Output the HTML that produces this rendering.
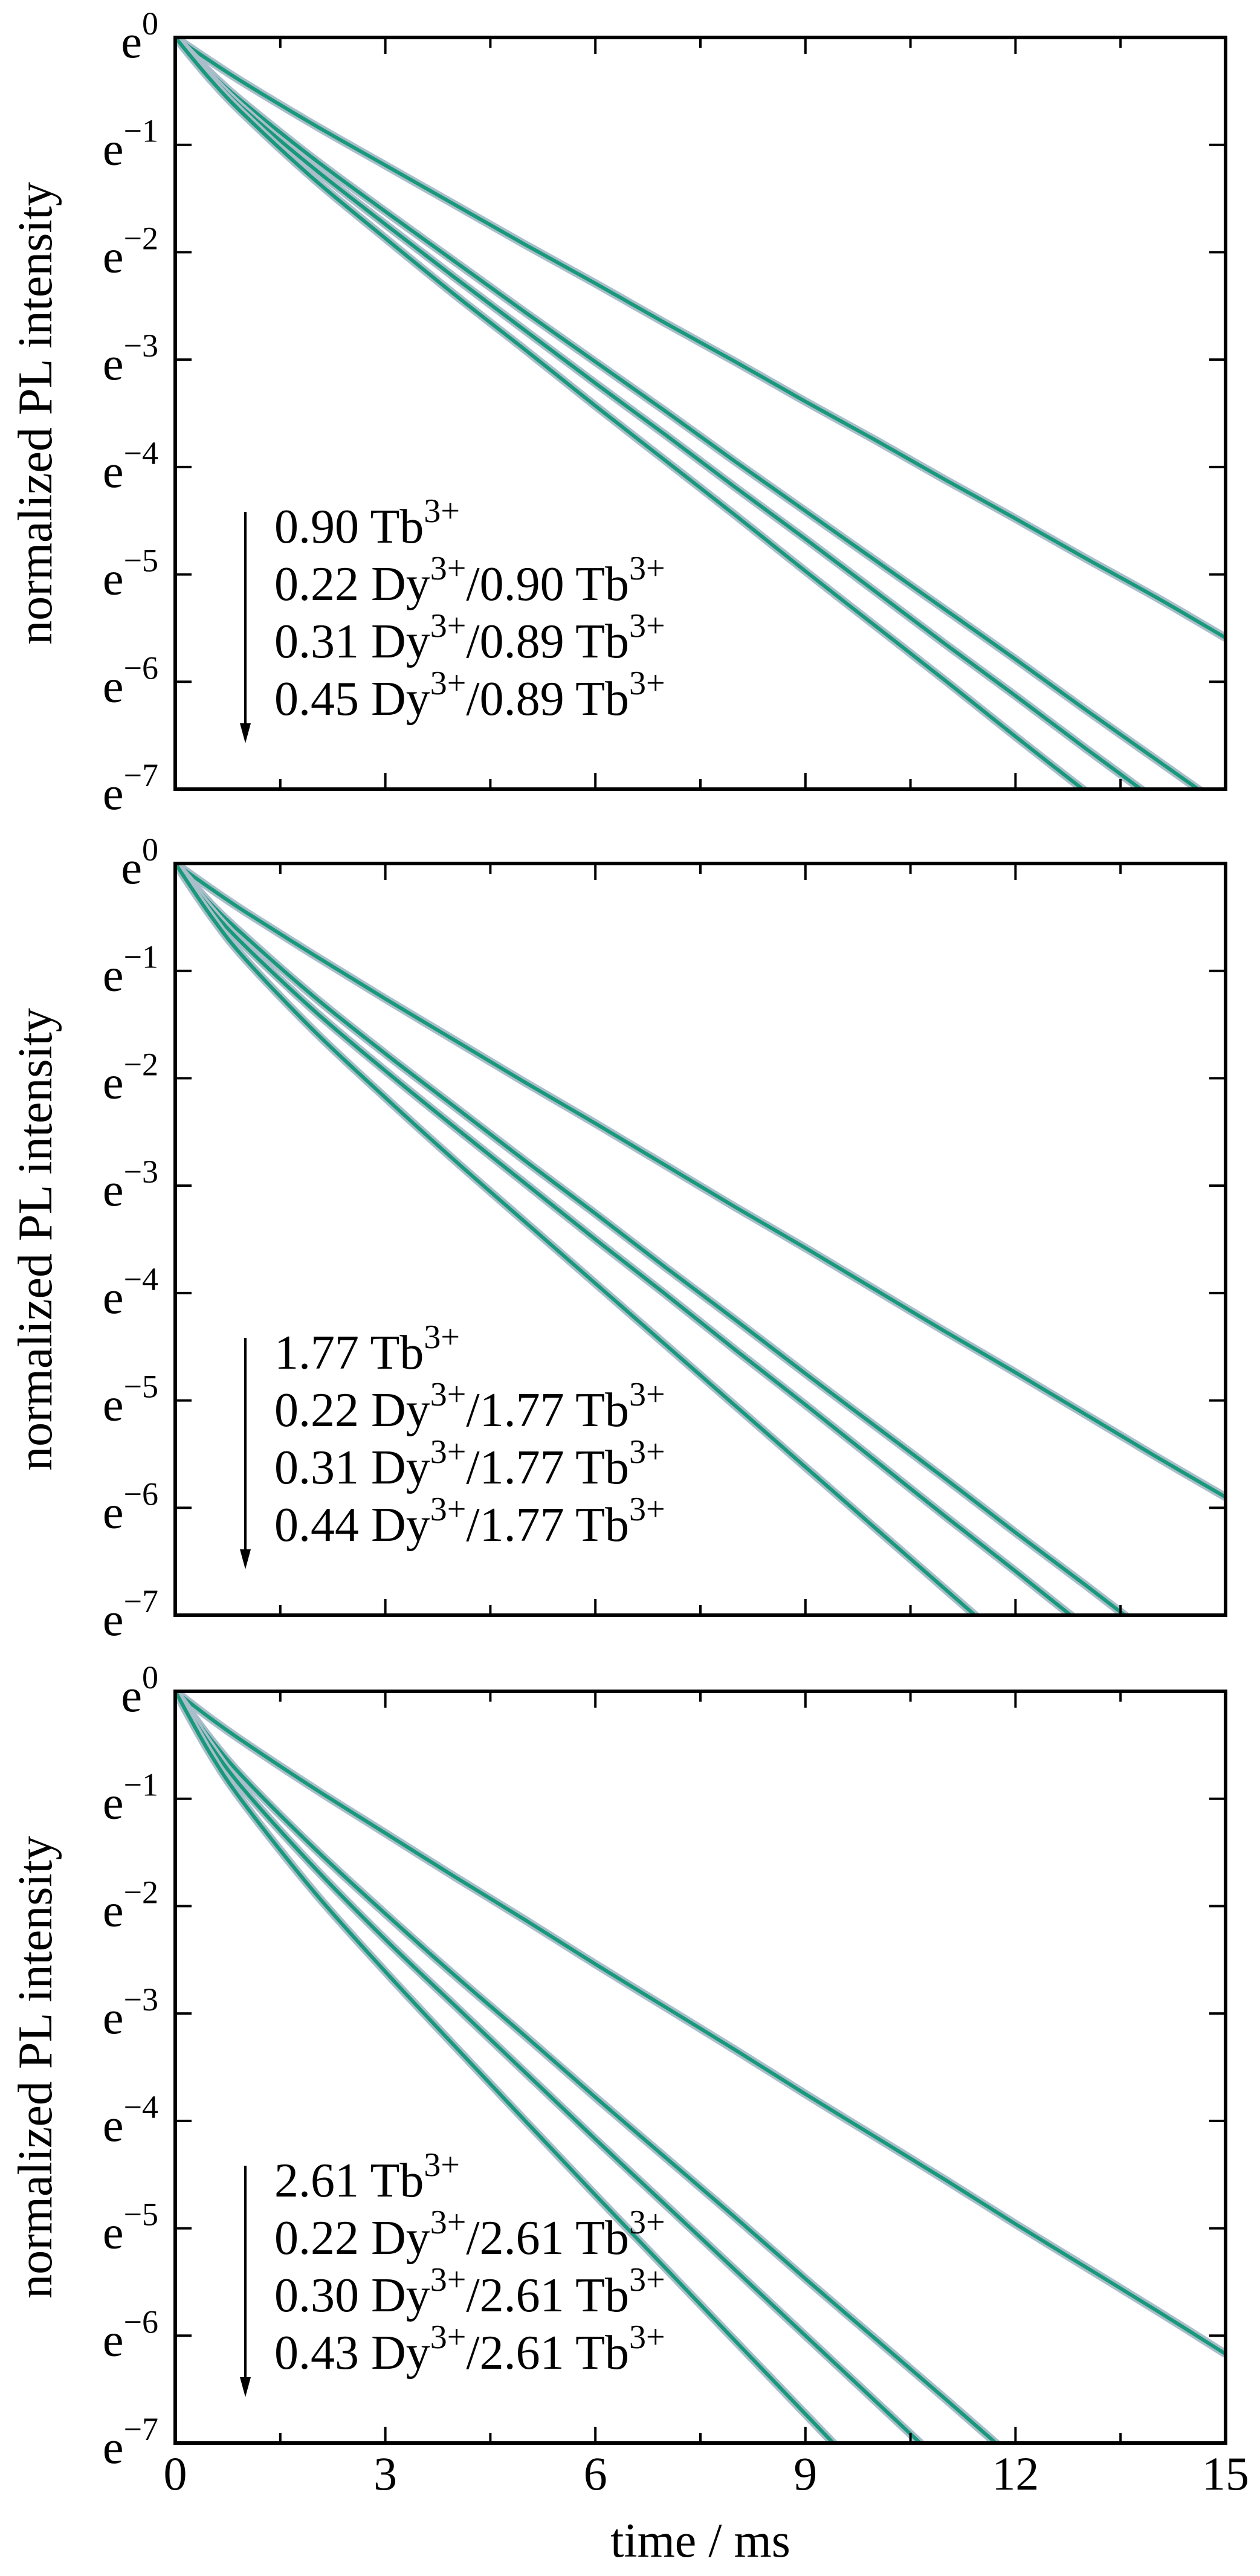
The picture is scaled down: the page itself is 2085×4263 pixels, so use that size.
<!DOCTYPE html>
<html>
<head>
<meta charset="utf-8">
<style>
  html, body { margin:0; padding:0; background:#fff; width:2085px; height:4263px; overflow:hidden; }
  svg { display:block; }
  text { font-family: "Liberation Serif", "DejaVu Serif", serif; fill:#000; }
</style>
</head>
<body>
<svg id="chart" width="2085" height="4263" viewBox="0 0 2085 4263" xmlns="http://www.w3.org/2000/svg"></svg>
<script>
// ---- data ----
const times = [0, 0.5, 1, 2, 3, 4, 5, 6, 7, 8, 9, 10, 11, 12, 13, 14, 15];
const yTicks = [0, -1, -2, -3, -4, -5, -6, -7];
const xTicks = [0, 3, 6, 9, 12, 15];
const xMinorTicks = [1.5, 4.5, 7.5, 10.5, 13.5];

const panel1Labels = [["0.90"], ["0.22", "0.90"], ["0.31", "0.89"], ["0.45", "0.89"]];
const panel2Labels = [["1.77"], ["0.22", "1.77"], ["0.31", "1.77"], ["0.44", "1.77"]];
const panel3Labels = [["2.61"], ["0.22", "2.61"], ["0.30", "2.61"], ["0.43", "2.61"]];

// ln(normalized intensity) at each time
const p1s1 = [0, -0.22, -0.43, -0.82, -1.19, -1.56, -1.93, -2.29, -2.66, -3.02, -3.39, -3.75, -4.12, -4.48, -4.85, -5.21, -5.59];
const p1s2 = [0, -0.33, -0.62, -1.14, -1.62, -2.09, -2.56, -3.02, -3.48, -3.95, -4.41, -4.87, -5.33, -5.79, -6.26, -6.72, -7.18];
const p1s3 = [0, -0.36, -0.68, -1.23, -1.74, -2.24, -2.73, -3.22, -3.70, -4.19, -4.67, -5.16, -5.65, -6.13, -6.62, -7.10, -7.59];
const p1s4 = [0, -0.39, -0.73, -1.33, -1.87, -2.40, -2.91, -3.43, -3.94, -4.45, -4.97, -5.48, -5.99, -6.51, -7.02, -7.53, -8.05];

const p2s1 = [0, -0.23, -0.45, -0.86, -1.26, -1.65, -2.04, -2.42, -2.81, -3.20, -3.58, -3.97, -4.36, -4.74, -5.13, -5.52, -5.90];
const p2s2 = [0, -0.37, -0.68, -1.25, -1.77, -2.27, -2.77, -3.26, -3.76, -4.25, -4.75, -5.24, -5.73, -6.23, -6.72, -7.22, -7.71];
const p2s3 = [0, -0.42, -0.77, -1.38, -1.93, -2.46, -2.98, -3.50, -4.01, -4.53, -5.04, -5.56, -6.08, -6.59, -7.11, -7.62, -8.14];
const p2s4 = [0, -0.48, -0.89, -1.57, -2.18, -2.77, -3.34, -3.91, -4.48, -5.05, -5.62, -6.19, -6.76, -7.33, -7.90, -8.47, -9.04];

const p3s1 = [0, -0.25, -0.48, -0.91, -1.32, -1.73, -2.13, -2.54, -2.94, -3.34, -3.75, -4.15, -4.55, -4.96, -5.36, -5.76, -6.17];
const p3s2 = [0, -0.44, -0.82, -1.47, -2.07, -2.65, -3.21, -3.78, -4.34, -4.90, -5.47, -6.03, -6.59, -7.16, -7.72, -8.28, -8.85];
const p3s3 = [0, -0.50, -0.93, -1.65, -2.31, -2.93, -3.55, -4.17, -4.78, -5.39, -6.00, -6.61, -7.22, -7.83, -8.44, -9.05, -9.66];
const p3s4 = [0, -0.58, -1.06, -1.88, -2.61, -3.31, -4.00, -4.69, -5.37, -6.05, -6.73, -7.41, -8.09, -8.77, -9.45, -10.13, -10.81];

// ---- layout ----
const NS = "http://www.w3.org/2000/svg";
const svg = document.getElementById("chart");
const X0 = 290, X1 = 2028;
const PH = 1244;
const panelTops = [62, 1429, 2799];
const xs = t => X0 + (t / 15) * (X1 - X0);
const ysFor = top => v => top + (-v / 7) * PH;

function mk(tag, attrs, parent) {
  const e = document.createElementNS(NS, tag);
  for (const k in attrs) e.setAttribute(k, attrs[k]);
  (parent || svg).appendChild(e);
  return e;
}
function pathFrom(pts) {
  let d = "M" + pts[0][0].toFixed(1) + "," + pts[0][1].toFixed(1);
  for (let i = 0; i < pts.length - 1; i++) {
    const p0 = pts[Math.max(0, i - 1)], p1 = pts[i], p2 = pts[i + 1], p3 = pts[Math.min(pts.length - 1, i + 2)];
    const c1x = p1[0] + (p2[0] - p0[0]) / 6, c1y = p1[1] + (p2[1] - p0[1]) / 6;
    const c2x = p2[0] - (p3[0] - p1[0]) / 6, c2y = p2[1] - (p3[1] - p1[1]) / 6;
    d += " C" + c1x.toFixed(1) + "," + c1y.toFixed(1) + " " + c2x.toFixed(1) + "," + c2y.toFixed(1) + " " + p2[0].toFixed(1) + "," + p2[1].toFixed(1);
  }
  return d;
}

const panels = [
  { series: [p1s1, p1s2, p1s3, p1s4], labels: panel1Labels },
  { series: [p2s1, p2s2, p2s3, p2s4], labels: panel2Labels },
  { series: [p3s1, p3s2, p3s3, p3s4], labels: panel3Labels }
];

panels.forEach((p, pi) => {
  const top = panelTops[pi], bot = top + PH;
  const ys = ysFor(top);
  const g = mk("g", {});
  
  

  const clip = mk("clipPath", { id: "clip" + pi }, g);
  mk("rect", { x: X0, y: top, width: X1 - X0, height: PH }, clip);

  const plot = mk("g", { "clip-path": "url(#clip" + pi + ")" }, g);
  p.series.forEach((s, si) => {
    const pts = times.map((t, i) => [xs(t), ys(s[i])]);
    const d = pathFrom(pts);
    const band = mk("path", { d: d, fill: "none", stroke: "#a9bdca", "stroke-width": 14, "stroke-linejoin": "round" }, plot);
    
    
    const fit = mk("path", { d: d, fill: "none", stroke: "#17997a", "stroke-width": 6, "stroke-linejoin": "round" }, plot);
    
    
  });

  const frame = mk("rect", { x: X0, y: top, width: X1 - X0, height: PH, fill: "none", stroke: "#000", "stroke-width": 6 }, g);
  
  

  yTicks.forEach(v => {
    const y = ys(v);
    mk("line", { x1: X0, x2: X0 + 27, y1: y, y2: y, stroke: "#000", "stroke-width": 4 }, g);
    mk("line", { x1: X1, x2: X1 - 27, y1: y, y2: y, stroke: "#000", "stroke-width": 4 }, g);
    const tx = mk("text", { x: 262, y: y + 33, "text-anchor": "end", "font-size": 78 }, g);
    
    
    const e = mk("tspan", {}, tx); e.textContent = "e";
    const sup = mk("tspan", { dy: -38, "font-size": 54 }, tx);
    sup.textContent = v === 0 ? "0" : "\u2212" + (-v);
  });
  xTicks.forEach(t => {
    const x = xs(t);
    mk("line", { x1: x, x2: x, y1: bot, y2: bot - 27, stroke: "#000", "stroke-width": 4 }, g);
    mk("line", { x1: x, x2: x, y1: top, y2: top + 27, stroke: "#000", "stroke-width": 4 }, g);
  });
  xMinorTicks.forEach(t => {
    const x = xs(t);
    mk("line", { x1: x, x2: x, y1: bot, y2: bot - 17, stroke: "#000", "stroke-width": 4 }, g);
    mk("line", { x1: x, x2: x, y1: top, y2: top + 17, stroke: "#000", "stroke-width": 4 }, g);
  });

  const yt = mk("text", { x: 0, y: 0, "text-anchor": "middle", "font-size": 80,
    transform: "translate(85," + (top + PH / 2) + ") rotate(-90)" }, g);
  yt.textContent = "normalized PL intensity";
  
  

  const ax = 406;
  mk("line", { x1: ax, x2: ax, y1: top + 785, y2: top + 1150, stroke: "#000", "stroke-width": 4 }, g);
  const head = mk("path", { d: "M" + (ax - 9) + "," + (top + 1135) + " L" + ax + "," + (top + 1168) + " L" + (ax + 9) + "," + (top + 1135) + " Z", fill: "#000" }, g);
  
  

  p.labels.forEach((lab, li) => {
    const t = mk("text", { x: 454, y: top + 836 + li * 95, "font-size": 80 }, g);
    
    
    const parts = [];
    if (lab.length === 1) {
      parts.push([lab[0] + " Tb", 0, 80], ["3+", -34, 56]);
    } else {
      parts.push([lab[0] + " Dy", 0, 80], ["3+", -34, 56], ["/" + lab[1] + " Tb", 34, 80], ["3+", -34, 56]);
    }
    parts.forEach(pp => {
      const ts = mk("tspan", { dy: pp[1], "font-size": pp[2] }, t);
      ts.textContent = pp[0];
    });
  });

  if (pi === 2) {
    xTicks.forEach(tk => {
      const lt = mk("text", { x: xs(tk), y: bot + 77, "text-anchor": "middle", "font-size": 78 }, g);
      lt.textContent = String(tk);
      
      
    });
    const xt = mk("text", { x: (X0 + X1) / 2, y: bot + 188, "text-anchor": "middle", "font-size": 80 }, g);
    xt.textContent = "time / ms";
    
    
  }
});
</script>
</body>
</html>
